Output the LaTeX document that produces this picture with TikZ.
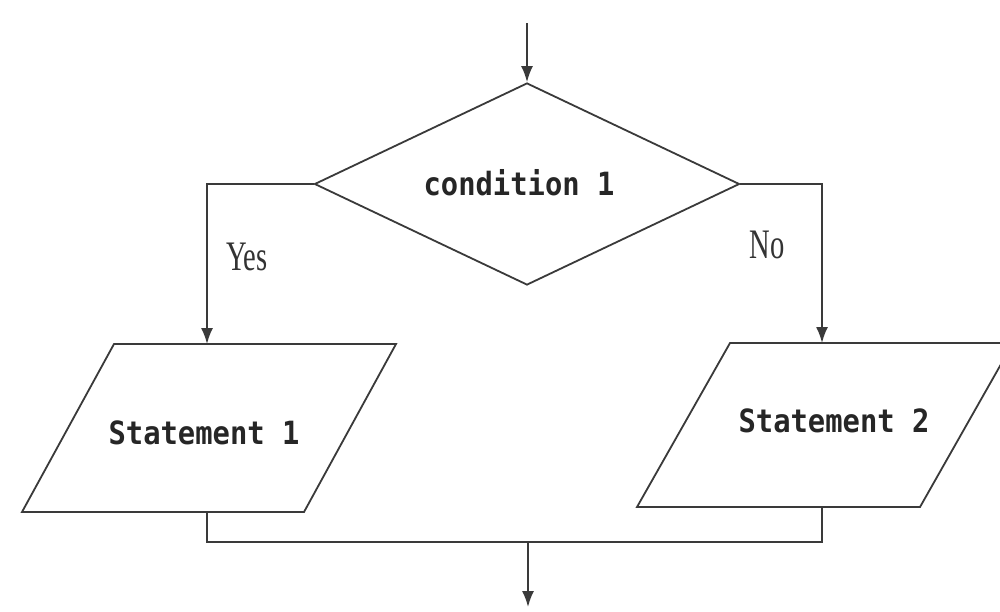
\documentclass[tikz,border=0pt]{standalone}
\usepackage{fontspec}
\setmainfont{Liberation Serif}
\newfontfamily\codefont{DejaVu Sans Mono}
\usetikzlibrary{shapes.geometric,arrows.meta}
\definecolor{linegray}{HTML}{3A3A3A}
\begin{document}
\begin{tikzpicture}[x=1pt,y=-1pt,
  flow/.style={draw=linegray, line width=1.8pt, line join=miter},
  arrowline/.style={flow, -{Latex[length=16pt,width=12pt]}},
  decision/.style={diamond, flow, minimum width=425pt, minimum height=202pt, inner sep=0pt, aspect=2.1},
  code/.style={font=\codefont\bfseries\fontsize{32}{36}\selectfont, xscale=0.9, inner sep=0pt, text=black!85},
  branchlabel/.style={font=\fontsize{42}{42}\selectfont, xscale=0.68, inner sep=0pt, text=black!80}]
\useasboundingbox (0,0) rectangle (1000,611);
\clip (0,0) rectangle (1000,611);
\fill[white] (0,0) rectangle (1000,611);

% decision
\coordinate (entry) at (527,23);
\node[decision] (cond) at (527,184) {};
\node[code] (condtext) at (519,183) {condition 1};
\draw[arrowline] (entry) -- (cond.north);

% statement boxes (parallelograms)
\coordinate (s1top) at (207,344);
\coordinate (s1bot) at (207,512);
\draw[flow] (114,344) -- (396,344) -- (304,512) -- (22,512) -- cycle;
\node[code] (s1) at (204,433) {Statement 1};

\coordinate (s2top) at (822,343);
\coordinate (s2bot) at (822,507);
\draw[flow] (730,343) -- (1013,343) -- (920,507) -- (637,507) -- cycle;
\node[code] (s2) at (834,421) {Statement 2};

% branches
\draw[arrowline] (cond.west) -| (s1top);
\draw[arrowline] (cond.east) -| (s2top);
\node[branchlabel] (yes) at (247,257) {Yes};
\node[branchlabel] (no) at (767,245) {No};

% merge
\coordinate (merge) at (528,542);
\coordinate (exit) at (528,607);
\draw[flow] (s1bot) -- (s1bot |- merge) -- (s2bot |- merge) -- (s2bot);
\draw[arrowline] (merge) -- (exit);
\end{tikzpicture}
\end{document}
